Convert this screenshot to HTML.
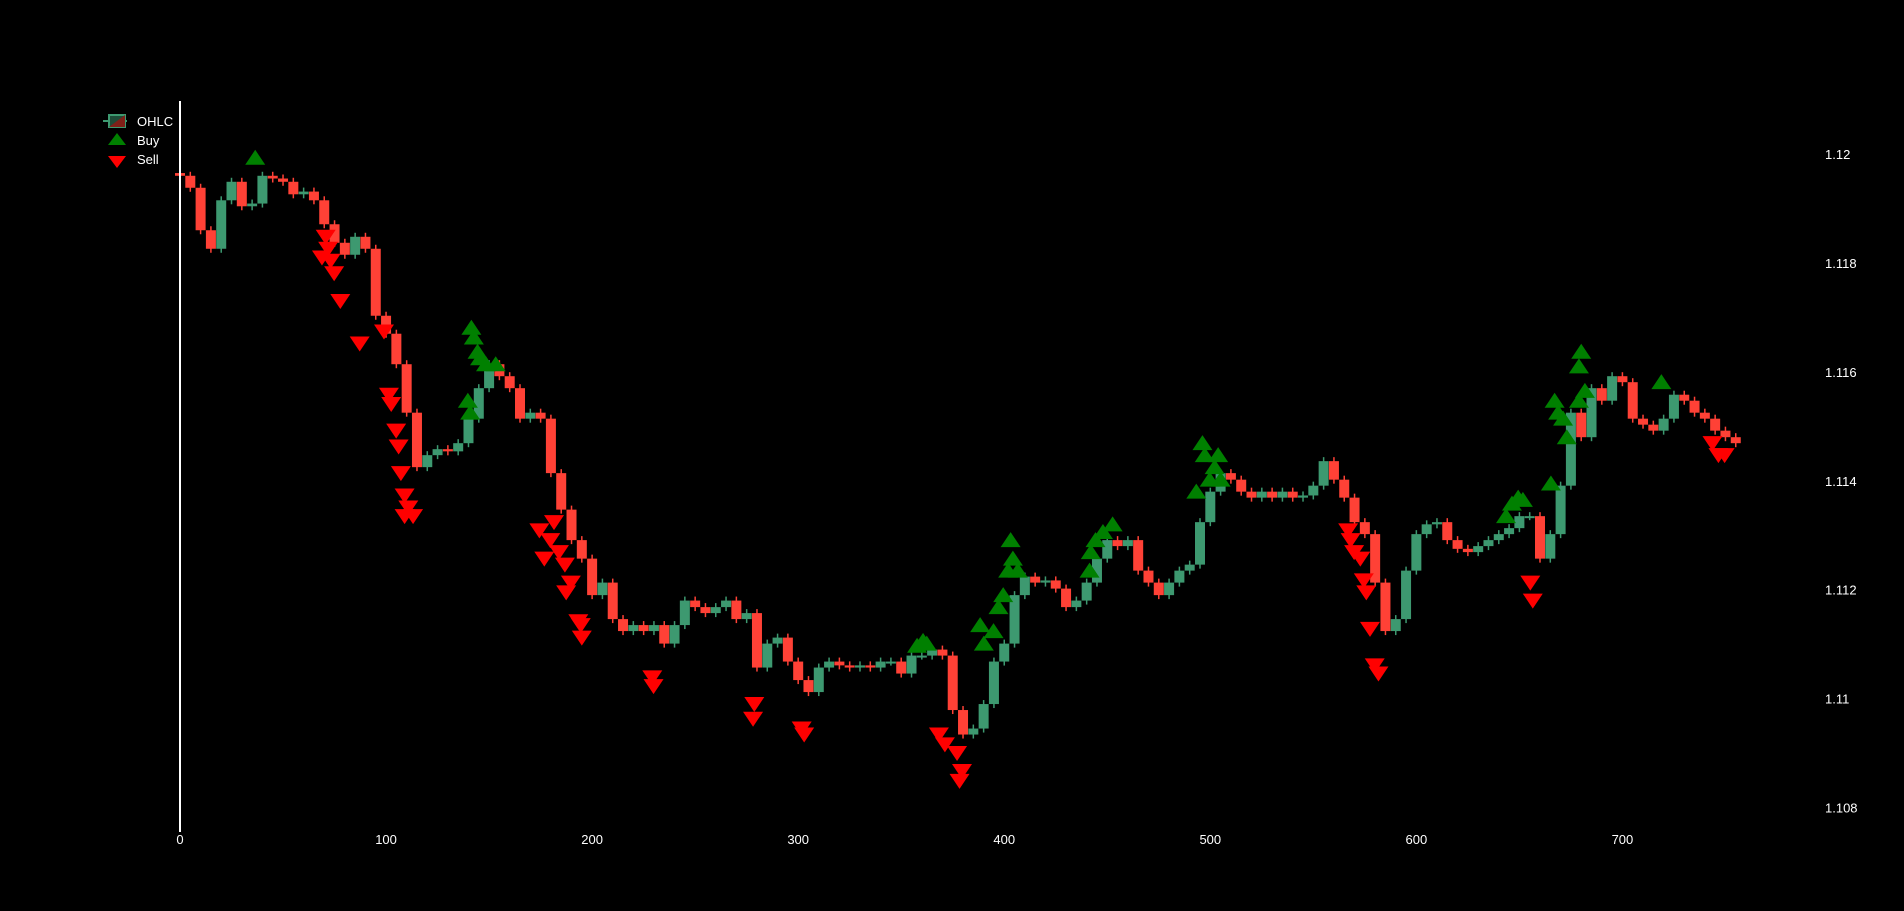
<!DOCTYPE html>
<html><head><meta charset="utf-8"><style>
html,body{margin:0;padding:0;background:#000;}
svg{display:block;font-family:"Liberation Sans",sans-serif;}
</style></head><body>
<svg id="chart" width="1904" height="911" viewBox="0 0 1904 911" xmlns="http://www.w3.org/2000/svg">
<rect width="1904" height="911" fill="#000"/>
<g id="candles"></g>
<g id="buys"></g>
<g id="sells"></g>
<line x1="180" y1="101" x2="180" y2="832" stroke="#fff" stroke-width="2"/>
<g id="xticks"></g>
<g id="yticks"></g>
<g>
  <g>
    <line x1="103" y1="121" x2="127" y2="121" stroke="#3d9970" stroke-width="2"/>
    <rect x="109" y="115" width="16" height="12" fill="#1e4c38" stroke="#3d9970" stroke-width="2"/>
    <polygon points="125,115 125,127 109,127" fill="#7f2018"/>
    <text x="137" y="126" fill="#fff" font-size="13">OHLC</text>
  </g>
  <g>
    <polygon points="117,133 108,145 126,145" fill="#008000"/>
    <text x="137" y="145" fill="#fff" font-size="13">Buy</text>
  </g>
  <g>
    <polygon points="108,156 126,156 117,168" fill="#ff0000"/>
    <text x="137" y="164" fill="#fff" font-size="13">Sell</text>
  </g>
</g>
</svg>
<script>
const xStep = 5;
const closes = [1.1196,1.11938,1.1186,1.11826,1.11915,1.11949,1.11904,1.11909,1.1196,1.11955,1.11949,1.11926,1.11931,1.11915,1.11871,1.11837,1.11815,1.11848,1.11826,1.11703,1.1167,1.11614,1.11525,1.11425,1.11447,1.11458,1.11454,1.11469,1.11514,1.1157,1.11614,1.11592,1.1157,1.11514,1.11525,1.11514,1.11414,1.11347,1.11291,1.11257,1.1119,1.11213,1.11146,1.11124,1.11135,1.11124,1.11135,1.11101,1.11135,1.1118,1.11168,1.11157,1.11168,1.1118,1.11146,1.11157,1.11057,1.11101,1.11112,1.11068,1.11034,1.11012,1.11057,1.11068,1.11061,1.11057,1.11061,1.11057,1.11068,1.11068,1.11046,1.11079,1.11079,1.1109,1.11079,1.10979,1.10934,1.10945,1.1099,1.11068,1.11101,1.1119,1.11224,1.11213,1.11217,1.11202,1.11168,1.1118,1.11213,1.11257,1.11291,1.1128,1.11291,1.11235,1.11213,1.1119,1.11213,1.11235,1.11246,1.11324,1.1138,1.11414,1.11402,1.1138,1.11369,1.1138,1.11369,1.1138,1.11369,1.11373,1.11391,1.11436,1.11402,1.11369,1.11324,1.11302,1.11213,1.11124,1.11146,1.11235,1.11302,1.1132,1.11324,1.11291,1.11275,1.11269,1.1128,1.11291,1.11302,1.11313,1.11335,1.11335,1.11257,1.11302,1.11391,1.11525,1.1148,1.1157,1.11547,1.11592,1.11581,1.11514,1.11503,1.11492,1.11514,1.11558,1.11547,1.11525,1.11514,1.11492,1.1148,1.11469];
const buyX = [36.5,141.4,142.6,144.4,145.6,148.5,153.2,139.7,140.8,357.7,360.6,362.4,388.3,390.1,394.8,397.2,399.5,401.9,403.1,404.2,406.6,441.4,442,444.3,447.9,452.6,493.2,496.2,497.3,499.7,502.1,503.8,505,643.5,646.4,649.4,651.7,665.3,667.1,668.8,671.2,673,678.9,680,678.9,681.8,718.9];
const buyY = [1.11993,1.11681,1.11663,1.11637,1.11625,1.11614,1.11614,1.11547,1.11525,1.11097,1.11106,1.11101,1.11135,1.11101,1.11124,1.11168,1.1119,1.11235,1.11291,1.11257,1.11235,1.11235,1.11269,1.11291,1.11306,1.1132,1.1138,1.11469,1.11447,1.11402,1.11425,1.11447,1.11402,1.11335,1.11358,1.11369,1.11365,1.11395,1.11547,1.11525,1.11514,1.1148,1.11547,1.11637,1.1161,1.11565,1.11581];
const sellX = [70.7,71.9,68.9,73.1,74.8,77.8,87.2,99,101.4,102.5,104.9,106.1,107.2,109,110.8,113.1,109,174.4,176.8,179.7,181.5,183.9,186.8,189.7,187.4,193.3,195,194.5,229.8,229.2,278.7,278.1,301.7,302.9,368.3,371.2,377.1,378.3,379.5,566.9,568.1,569.8,572.8,574.5,575.7,577.5,579.8,581.6,655.3,656.5,743.7,746.6,749.6];
const sellY = [1.11848,1.11826,1.1181,1.11804,1.11781,1.1173,1.11652,1.11674,1.11558,1.11541,1.11492,1.11463,1.11414,1.11373,1.11351,1.11335,1.11335,1.11309,1.11257,1.11291,1.11324,1.11269,1.11246,1.11213,1.11195,1.11142,1.11112,1.11135,1.11023,1.11039,1.1099,1.10963,1.10945,1.10934,1.10934,1.10916,1.109,1.10849,1.10867,1.11309,1.11291,1.11269,1.11257,1.11217,1.11195,1.11128,1.11061,1.11046,1.11213,1.1118,1.11469,1.11447,1.11447];
const xTicks = [0,100,200,300,400,500,600,700];
const yTicks = [1.108,1.11,1.112,1.114,1.116,1.118,1.12];

const NS = "http://www.w3.org/2000/svg";
function xs(v){ return 180 + v * 2.0606; }
function ys(p){ return 154 + (1.12 - p) / 0.002 * 108.92; }
function mk(tag, attrs){ const e = document.createElementNS(NS, tag); for (const k in attrs) e.setAttribute(k, attrs[k]); return e; }

const cg = document.getElementById('candles');
for (let i = 0; i < closes.length; i++) {
  const o = i === 0 ? closes[0] + 0.00005 : closes[i-1];
  const c = closes[i];
  const up = c >= o;
  const col = up ? '#3d9970' : '#ff4136';
  const x = xs(i * xStep);
  const top = ys(Math.max(o, c)), bot = ys(Math.min(o, c));
  const wick = mk('line', {x1:x, x2:x, y1:top-4, y2:bot+4, stroke:col, 'stroke-width':1.5});
  
  
  cg.appendChild(wick);
  const body = mk('rect', {x:x-5, y:top, width:10, height:Math.max(2, bot-top), fill:col});
  
  
  cg.appendChild(body);
}
const bg = document.getElementById('buys');
for (let i = 0; i < buyX.length; i++) {
  const x = xs(buyX[i]), y = ys(buyY[i]);
  const t = mk('polygon', {points:`${x},${y-8} ${x-10},${y+7} ${x+10},${y+7}`, fill:'#008000'});
  
  
  bg.appendChild(t);
}
const sg = document.getElementById('sells');
for (let i = 0; i < sellX.length; i++) {
  const x = xs(sellX[i]), y = ys(sellY[i]);
  const t = mk('polygon', {points:`${x-10},${y-7} ${x+10},${y-7} ${x},${y+8}`, fill:'#ff0000'});
  
  
  sg.appendChild(t);
}
const xg = document.getElementById('xticks');
xTicks.forEach(v => {
  const t = mk('text', {x:xs(v), y:844, fill:'#fff', 'font-size':13, 'text-anchor':'middle'});
  t.textContent = String(v);
  
  
  xg.appendChild(t);
});
const yg = document.getElementById('yticks');
yTicks.forEach(v => {
  const t = mk('text', {x:1825, y:ys(v)+5, fill:'#fff', 'font-size':13});
  t.textContent = String(v);
  
  
  yg.appendChild(t);
});
</script>
</body></html>
